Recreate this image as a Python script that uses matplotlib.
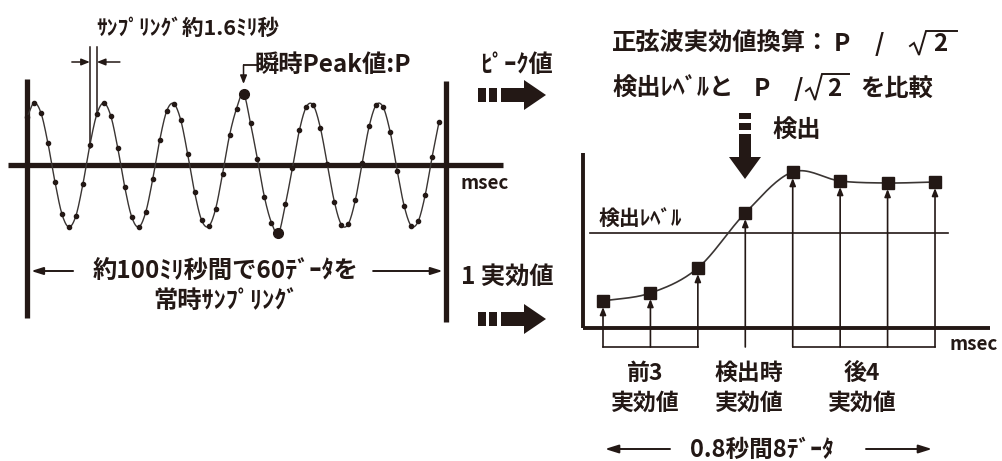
import numpy as np
import matplotlib
matplotlib.use('Agg')
import matplotlib.pyplot as plt
from matplotlib.patches import Rectangle, Polygon

plt.rcParams['font.family'] = ['Noto Sans CJK JP', 'DejaVu Sans']

INK = '#231815'

# ---------------- data ----------------
# left: instantaneous samples (about 1.6 ms interval, 60 samples in ~100 ms)
sample_interval_ms = 1.667
sample_values = [0.77, 1.00, 0.84, 0.35, -0.27, -0.79, -1.00, -0.82, -0.31, 0.32,
                 0.82, 1.00, 0.79, 0.27, -0.36, -0.84, -1.00, -0.76, -0.23, 0.40,
                 0.87, 0.99, 0.73, 0.18, -0.44, -0.89, -0.99, -0.71, -0.14, 0.48,
                 0.91, 1.15, 0.67, 0.09, -0.52, -0.93, -1.10, -0.63, -0.05, 0.56,
                 0.94, 0.96, 0.60, 0.01, -0.59, -0.96, -0.95, -0.57, 0.04, 0.63,
                 0.97, 0.93, 0.53, -0.09, -0.66, -0.98, -0.91, -0.49, 0.13, 0.70]
peak_index = 31
trough_index = 36
marked_interval = [9, 10]

# right: RMS values (8 data in 0.8 s)
rms_index = [1, 2, 3, 4, 5, 6, 7, 8]
rms_values = [27, 35, 60, 115, 156, 147, 145, 146]
detect_level = 95
before_group = [1, 2, 3]
detect_point = 4
after_group = [5, 6, 7, 8]

W, H = 1002, 461
fig = plt.figure(figsize=(W / 100, H / 100), dpi=100)


def box(x0, y0, x1, y1):
    return [x0 / W, 1 - y1 / H, (x1 - x0) / W, (y1 - y0) / H]


def smooth(x, y, n=14):
    P = np.column_stack([np.asarray(x, float), np.asarray(y, float)])
    P = np.vstack([2 * P[0] - P[1], P, 2 * P[-1] - P[-2]])
    t = np.linspace(0, 1, n, endpoint=False)[:, None]
    out = []
    for i in range(1, len(P) - 2):
        p0, p1, p2, p3 = P[i - 1], P[i], P[i + 1], P[i + 2]
        out.append(0.5 * (2 * p1 + (-p0 + p2) * t + (2 * p0 - 5 * p1 + 4 * p2 - p3) * t ** 2
                          + (-p0 + 3 * p1 - 3 * p2 + p3) * t ** 3))
    out.append(P[-2][None, :])
    S = np.vstack(out)
    return S[:, 0], S[:, 1]


# ---------------- left chart ----------------
pxms = 4.19   # pixels per ms
pxv = 62.0    # pixels per unit value
axL = fig.add_axes(box(0, 40, 560, 340))
axL.set_xlim(-27 / pxms, (560 - 27) / pxms)
axL.set_ylim(-(340 - 165) / pxv, (165 - 40) / pxv)
axL.axis('off')

t = np.arange(len(sample_values)) * sample_interval_ms
v = np.array(sample_values)
sx, sy = smooth(t, v)
axL.plot(sx, sy, color='#3a3533', lw=1.0, zorder=3)
axL.plot(t, v, 'o', color=INK, ms=3.0, zorder=4)
axL.plot(t[[peak_index, trough_index]], v[[peak_index, trough_index]], 'o', color=INK, ms=7, zorder=5)

# axes
axL.plot([(8 - 27) / pxms, (503 - 27) / pxms], [0, 0], color=INK, lw=3.8, solid_capstyle='butt', zorder=2)
axL.plot([0, 0], [-2.47, 1.39], color=INK, lw=3.8, solid_capstyle='butt', zorder=2)
tend = 100.0
axL.plot([tend, tend], [-2.53, 1.36], color=INK, lw=3.8, solid_capstyle='butt', zorder=2)

# 100 ms bracket arrows
ya = -(271 - 165) / pxv
arw = dict(arrowstyle='-|>,head_length=0.7,head_width=0.22', color=INK, lw=1.4, shrinkA=0, shrinkB=0)
axL.annotate('', xy=(1.0, ya), xytext=(11.0, ya), arrowprops=arw)
axL.annotate('', xy=(tend - 0.8, ya), xytext=(82.6, ya), arrowprops=arw)

# sampling interval marker
i0, i1 = marked_interval
ytop = (165 - 47) / pxv
axL.plot([t[i0], t[i0]], [v[i0] - 0.05, ytop], color=INK, lw=1.1)
axL.plot([t[i1], t[i1]], [v[i1] + 0.02, ytop], color=INK, lw=1.1)
ym = (165 - 62) / pxv
arw2 = dict(arrowstyle='-|>,head_length=0.5,head_width=0.2', color=INK, lw=1.1, shrinkA=0, shrinkB=0)
axL.annotate('', xy=(t[i0], ym), xytext=(t[i0] - 4.3, ym), arrowprops=arw2)
axL.annotate('', xy=(t[i1], ym), xytext=(t[i1] + 5.5, ym), arrowprops=arw2)

# peak hook arrow
tp = t[peak_index]
yh = (165 - 65) / pxv
axL.plot([tp + 3.2, tp], [yh, yh], color=INK, lw=1.3)
axL.annotate('', xy=(tp, (165 - 84) / pxv), xytext=(tp, yh), arrowprops=arw2)

# ---------------- right chart ----------------
sp = 47.43
axR = fig.add_axes(box(560, 140, 1002, 461))
axR.set_xlim(1 + (560 - 603) / sp, 1 + (1002 - 603) / sp)
axR.set_ylim(-(461 - 328), 328 - 140)
axR.axis('off')

xa = 1 + (583 - 603) / sp
axR.plot([xa, xa], [0, 175], color=INK, lw=2.8, solid_capstyle='butt')
axR.plot([xa, 1 + (990 - 603) / sp], [0, 0], color=INK, lw=2.8, solid_capstyle='butt')
axR.plot([1 + (590 - 603) / sp, 1 + (948 - 603) / sp], [detect_level, detect_level], color=INK, lw=1.2)

cx, cy = smooth(rms_index, rms_values, n=20)
axR.plot(cx, cy, color='#3a3533', lw=1.2, zorder=3)
axR.plot(rms_index, rms_values, 's', color=INK, ms=8.5, zorder=5)

yb = -19
arw3 = dict(arrowstyle='-|>,head_length=0.45,head_width=0.18', color=INK, lw=1.2, shrinkA=0, shrinkB=0)
for xi, yi in zip(rms_index, rms_values):
    axR.annotate('', xy=(xi, yi - 6), xytext=(xi, yb), arrowprops=arw3)
axR.plot([before_group[0], before_group[-1]], [yb, yb], color=INK, lw=1.2)
axR.plot([after_group[0], after_group[-1]], [yb, yb], color=INK, lw=1.2)

# ---------------- overlay (annotations) ----------------
ov = fig.add_axes([0, 0, 1, 1], zorder=10)
ov.set_xlim(0, W)
ov.set_ylim(H, 0)
ov.axis('off')
ov.patch.set_alpha(0)

bold = dict(fontweight='bold', color=INK)

ov.text(188, 28, 'ｻﾝﾌﾟﾘﾝｸﾞ約1.6ﾐﾘ秒', ha='center', va='center', fontsize=15.5, **bold)
ov.text(255, 65, '瞬時Peak値:P', ha='left', va='center', fontsize=17.5, **bold)
ov.text(516, 65, 'ﾋﾟｰｸ値', ha='center', va='center', fontsize=17.5, **bold)
ov.text(485, 183, 'msec', ha='center', va='center', fontsize=13.5, **bold)
ov.text(226, 272, '約100ﾐﾘ秒間で60ﾃﾞｰﾀを', ha='center', va='center', fontsize=17.5, **bold)
ov.text(226, 301, '常時ｻﾝﾌﾟﾘﾝｸﾞ', ha='center', va='center', fontsize=17.5, **bold)
ov.text(507, 277, '1 実効値', ha='center', va='center', fontsize=17.5, **bold)

# top-right formula lines
ov.text(612, 44, '正弦波実効値換算：', ha='left', va='center', fontsize=17.5, **bold)
ov.text(842, 44, 'P', ha='center', va='center', fontsize=17.5, **bold)
ov.text(879, 44, '/', ha='center', va='center', fontsize=17.5, **bold)
ov.text(940, 44, '2', ha='center', va='center', fontsize=17.5, **bold)
ov.plot([910, 914, 919, 926, 957], [46, 43, 55, 31, 31], color=INK, lw=1.4, solid_joinstyle='miter')

ov.text(612, 89, '検出ﾚﾍﾞﾙと', ha='left', va='center', fontsize=17.5, **bold)
ov.text(762, 89, 'P', ha='center', va='center', fontsize=17.5, **bold)
ov.text(798, 89, '/', ha='center', va='center', fontsize=17.5, **bold)
ov.text(834, 89, '2', ha='center', va='center', fontsize=17.5, **bold)
ov.plot([806, 810, 815, 822, 849], [91, 88, 100, 74, 74], color=INK, lw=1.4, solid_joinstyle='miter')
ov.text(897, 89, 'を比較', ha='center', va='center', fontsize=17.5, **bold)

ov.text(797, 130, '検出', ha='center', va='center', fontsize=17.5, **bold)
ov.text(640, 219, '検出ﾚﾍﾞﾙ', ha='center', va='center', fontsize=15, **bold)
ov.text(974, 344, 'msec', ha='center', va='center', fontsize=13.5, **bold)

for cxp, l1 in [(645, '前3'), (749, '検出時'), (862, '後4')]:
    ov.text(cxp, 373, l1, ha='center', va='center', fontsize=16.5, **bold)
    ov.text(cxp, 403, '実効値', ha='center', va='center', fontsize=16.5, **bold)

ov.text(762, 450, '0.8秒間8ﾃﾞｰﾀ', ha='center', va='center', fontsize=17, **bold)
arw4 = dict(arrowstyle='-|>,head_length=0.8,head_width=0.25', color=INK, lw=1.4, shrinkA=0, shrinkB=0)
ov.annotate('', xy=(605, 449), xytext=(670, 449), arrowprops=arw4)
ov.annotate('', xy=(932, 449), xytext=(866, 449), arrowprops=arw4)


def dash_arrow_h(x0, yc):
    ov.add_patch(Rectangle((x0, yc - 7), 8, 14, color=INK, lw=0))
    ov.add_patch(Rectangle((x0 + 11, yc - 7), 8, 14, color=INK, lw=0))
    ov.add_patch(Polygon([(x0 + 23, yc - 7), (x0 + 46, yc - 7), (x0 + 46, yc - 15), (x0 + 68, yc),
                          (x0 + 46, yc + 15), (x0 + 46, yc + 7), (x0 + 23, yc + 7)], closed=True, color=INK, lw=0))


dash_arrow_h(478, 95)
dash_arrow_h(478, 319)

# vertical dashed arrow (検出)
xc = 745
ov.add_patch(Rectangle((xc - 6, 113), 12, 6, color=INK, lw=0))
ov.add_patch(Rectangle((xc - 6, 123), 12, 7, color=INK, lw=0))
ov.add_patch(Polygon([(xc - 6, 134), (xc + 6, 134), (xc + 6, 157), (xc + 16, 157), (xc, 179),
                      (xc - 16, 157), (xc - 6, 157)], closed=True, color=INK, lw=0))

fig.savefig('out.png', dpi=100)
